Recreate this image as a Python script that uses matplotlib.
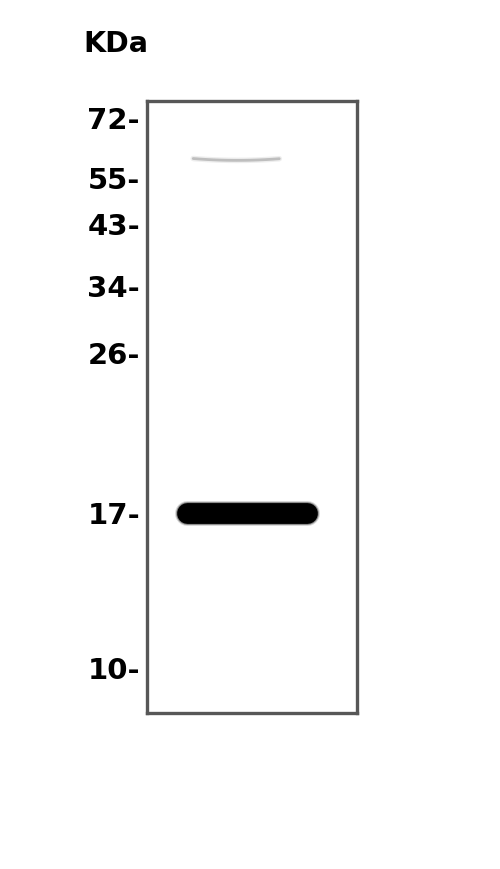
import numpy as np
import matplotlib
matplotlib.use('Agg')
import matplotlib.pyplot as plt

# molecular weight markers (kDa) and their relative migration in the lane (0 = top, 1 = bottom)
marker_kda = [72, 55, 43, 34, 26, 17, 10]
marker_rf = [0.028, 0.126, 0.201, 0.302, 0.412, 0.673, 0.926]

# detected bands: relative migration and intensity (0..1)
band_rf = [0.096, 0.673]
band_intensity = [0.13, 1.0]

plt.rcParams['font.family'] = ['DejaVu Sans']

fig = plt.figure(figsize=(5, 8.69), dpi=100)
ax = fig.add_axes([147 / 500, 1 - 713 / 869, 210 / 500, 612 / 869])
ax.set_xlim(0, 1)
ax.set_ylim(1, 0)
ax.set_xticks([])
ax.set_yticks(marker_rf)
ax.set_yticklabels([f'{k}-' for k in marker_kda], fontsize=21, fontweight='bold')
ax.tick_params(axis='y', length=0, pad=5)
for s in ax.spines.values():
    s.set_linewidth(2.4)
    s.set_color('#575757')

for rf, inten in zip(band_rf, band_intensity):
    if inten > 0.5:
        # main band, soft edges then dark core
        x0, x1 = 0.19, 0.76
        for lw, a in [(18, 0.15), (16.5, 0.35), (15, 1.0)]:
            ax.plot([x0, x1], [rf, rf], color='black', lw=lw, alpha=a * inten,
                    solid_capstyle='round')
    else:
        xs = np.linspace(0.22, 0.63, 60)
        t = (xs - 0.43) / 0.21
        ys = rf - 0.003 * t ** 2 + 0.001
        for lw, a in [(4, 0.25), (2, 0.8)]:
            ax.plot(xs, ys, color='#555555', lw=lw, alpha=a * inten * 3,
                    solid_capstyle='round')

fig.text(83 / 500, 1 - 44 / 869, 'KDa', fontsize=20.5, fontweight='bold',
         ha='left', va='center')

fig.savefig('out.png', dpi=100, facecolor='white')
